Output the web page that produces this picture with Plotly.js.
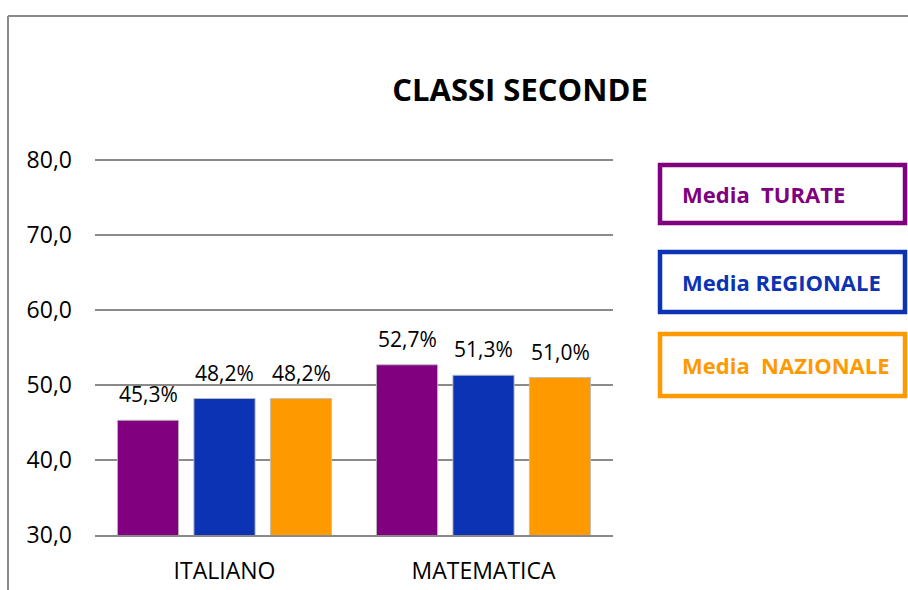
<!DOCTYPE html>
<html>
<head>
<meta charset="utf-8">
<script src="https://cdn.plot.ly/plotly-3.0.1.min.js"></script>
<style>
  html, body { margin: 0; padding: 0; background: #fff; }
  #chart { width: 908px; height: 590px; }
</style>
</head>
<body>
<div id="chart"></div>
<script>
var categories = ["ITALIANO", "MATEMATICA"];
var seriesNames = ["Media  TURATE", "Media REGIONALE", "Media  NAZIONALE"];
var turate = [45.3, 52.7];
var regionale = [48.2, 51.3];
var nazionale = [48.2, 51.0];
var yTicks = [30, 40, 50, 60, 70, 80];

var seriesValues = [turate, regionale, nazionale];
var colors = ["#800080", "#0B33B3", "#FF9900"];
var FONT = "Open Sans, Calibri, sans-serif";

var traces = seriesValues.map(function (vals, i) {
  return {
    type: "bar",
    name: seriesNames[i],
    x: categories,
    y: vals,
    marker: { color: colors[i], line: { color: "rgba(190,190,190,0.9)", width: 1 } },
    hoverinfo: "skip"
  };
});

// plot area in pixels: x 95..613, y 157..535 (30 -> 535, 80 -> 160)
var L = 95, R = 613, T = 157, B = 535;
function px(x) { return (x - L) / (R - L); }
function py(y) { return (B - y) / (B - T); }

var annotations = [];
var slotPx = 76.5;
seriesValues.forEach(function (vals, i) {
  vals.forEach(function (v, j) {
    annotations.push({
      x: categories[j], y: v, xref: "x", yref: "y",
      text: v.toFixed(1).replace(".", ",") + "%",
      showarrow: false, xshift: (i - 1) * slotPx, yshift: 26,
      yanchor: "middle", xanchor: "center",
      font: { family: FONT, size: 21, color: "#000" }
    });
  });
});

// legend boxes
var boxes = [[165, 223], [252, 312], [334, 396]];
var shapes = [];
boxes.forEach(function (b, i) {
  shapes.push({
    type: "rect", xref: "paper", yref: "paper",
    x0: px(660), x1: px(905), y0: py(b[1]), y1: py(b[0]),
    line: { color: colors[i], width: 4.5 }, fillcolor: "rgba(0,0,0,0)"
  });
  annotations.push({
    xref: "paper", yref: "paper", x: px(680), y: py((b[0] + b[1]) / 2),
    xanchor: "left", yanchor: "middle", showarrow: false,
    text: "<b>" + seriesNames[i].replace(/  /g, "&nbsp; ") + "</b>",
    font: { family: FONT, size: 22, color: colors[i] }
  });
});

// outer frame
shapes.push({ type: "line", xref: "paper", yref: "paper", x0: px(8), x1: px(8), y0: py(16), y1: py(600), line: { color: "#8a8a8a", width: 2 } });
shapes.push({ type: "line", xref: "paper", yref: "paper", x0: px(8), x1: px(920), y0: py(16), y1: py(16), line: { color: "#8a8a8a", width: 2 } });

var layout = {
  width: 908, height: 590,
  margin: { l: L, r: 908 - R, t: T, b: 590 - B },
  paper_bgcolor: "#fff", plot_bgcolor: "#fff",
  separators: ",.",
  showlegend: false,
  barmode: "group",
  bargap: 0.114,
  bargroupgap: 0.2,
  title: {
    text: "<b>CLASSI SECONDE</b>",
    xref: "paper", x: px(520), xanchor: "center",
    yref: "container", y: 1 - 90 / 590, yanchor: "middle",
    font: { family: FONT, size: 31, color: "#000" }
  },
  xaxis: {
    type: "category",
    showgrid: false, showline: true, linecolor: "#8a8a8a", linewidth: 1.5,
    ticks: "", ticklabelstandoff: 15,
    tickfont: { family: FONT, size: 23, color: "#000" }
  },
  yaxis: {
    range: [30, 80.4],
    tickvals: yTicks, tickformat: ".1f",
    showgrid: true, gridcolor: "#8a8a8a", gridwidth: 1.5,
    zeroline: false, showline: false, ticks: "", ticklabelstandoff: 22,
    tickfont: { family: FONT, size: 23, color: "#000" }
  },
  shapes: shapes,
  annotations: annotations
};

Plotly.newPlot("chart", traces, layout, { staticPlot: true, displayModeBar: false });
</script>
</body>
</html>
